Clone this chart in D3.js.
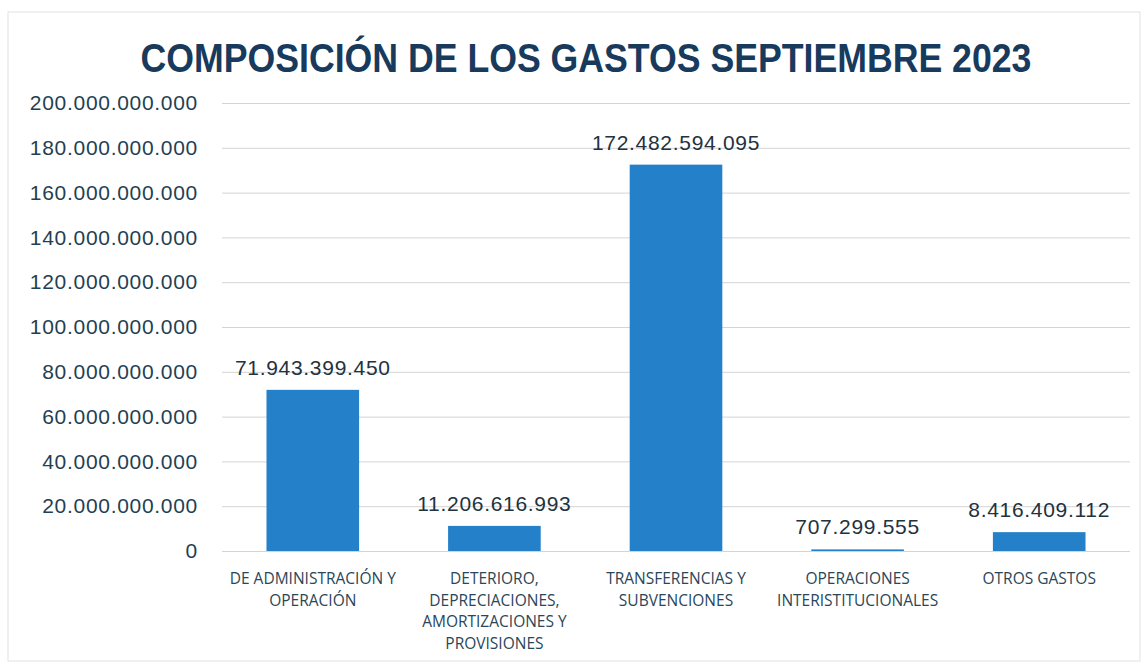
<!DOCTYPE html>
<html>
<head>
<meta charset="utf-8">
<script src="https://cdn.jsdelivr.net/npm/d3@7"></script>
<style>
  body { margin: 0; background: #fff; }
</style>
</head>
<body>
<div id="chart"></div>
<script>
// chart data
var categories = [
    ["DE ADMINISTRACIÓN Y", "OPERACIÓN"],
    ["DETERIORO,", "DEPRECIACIONES,", "AMORTIZACIONES Y", "PROVISIONES"],
    ["TRANSFERENCIAS Y", "SUBVENCIONES"],
    ["OPERACIONES", "INTERISTITUCIONALES"],
    ["OTROS GASTOS"]
];
var values = [71943399450, 11206616993, 172482594095, 707299555, 8416409112];
var yTicks = [0, 20e9, 40e9, 60e9, 80e9, 100e9, 120e9, 140e9, 160e9, 180e9, 200e9];

var W = 1146, H = 665;
var margin = { top: 103, right: 16, bottom: 114, left: 222 },
    width = W - margin.left - margin.right,
    height = H - margin.top - margin.bottom;

// thousands separated by dots
var fmt = function (v) {
    return d3.format(",")(v).replace(/,/g, ".");
};

var svg = d3.select("#chart")
    .append("svg")
    .attr("width", W)
    .attr("height", H);

// outer frame
svg.append("rect")
    .attr("x", 8).attr("y", 12)
    .attr("width", W - 14).attr("height", H - 16)
    .attr("fill", "#fff")
    .attr("stroke", "#e2e2e2");

// title, squeezed horizontally for the condensed look
svg.append("text")
    .attr("transform", "translate(586,72) scale(0.87,1)")
    .attr("text-anchor", "middle")
    .style("font-family", "Liberation Sans, Arial, sans-serif")
    .style("font-weight", "bold")
    .style("font-size", "41px")
    .style("fill", "#183a5d")
    .text("COMPOSICIÓN DE LOS GASTOS SEPTIEMBRE 2023");

var g = svg.append("g")
    .attr("transform", "translate(" + margin.left + "," + margin.top + ")");

var x = d3.scaleBand()
    .domain(d3.range(categories.length))
    .range([0, width])
    .paddingInner(0.49)
    .paddingOuter(0.245);

var y = d3.scaleLinear()
    .domain([0, 200e9])
    .range([height, 0]);

// grid lines
g.selectAll(".grid")
    .data(yTicks)
    .enter()
    .append("line")
    .attr("x1", 0)
    .attr("x2", width)
    .attr("y1", function (d) { return y(d) + 0.5; })
    .attr("y2", function (d) { return y(d) + 0.5; })
    .attr("stroke", "#d4d4d4")
    .attr("stroke-width", 1);

var numStyle = function (sel) {
    sel.style("font-family", "Liberation Sans, Arial, sans-serif")
        .style("font-size", "21px")
        .style("letter-spacing", "0.7px");
};

// Y axis labels
var yAxis = g.append("g")
    .attr("transform", "translate(-21,0)")
    .call(d3.axisLeft(y).tickValues(yTicks).tickFormat(fmt).tickSize(0));
yAxis.select(".domain").remove();
yAxis.selectAll("text")
    .call(numStyle)
    .style("fill", "#243f52");

// bars
g.selectAll(".bar")
    .data(values)
    .enter()
    .append("rect")
    .attr("x", function (d, i) { return x(i); })
    .attr("y", function (d) { return y(d); })
    .attr("width", x.bandwidth())
    .attr("height", function (d) { return height - y(d); })
    .attr("fill", "#2480c8");

// value labels
g.selectAll(".val")
    .data(values)
    .enter()
    .append("text")
    .attr("x", function (d, i) { return x(i) + x.bandwidth() / 2; })
    .attr("y", function (d) { return y(d) - 15; })
    .attr("text-anchor", "middle")
    .call(numStyle)
    .style("fill", "#22323e")
    .text(fmt);

// category labels
var cat = g.selectAll(".cat")
    .data(categories)
    .enter()
    .append("text")
    .attr("text-anchor", "middle")
    .attr("transform", function (d, i) {
        return "translate(" + (x(i) + x.bandwidth() / 2) + "," + (height + 33) + ")";
    })
    .style("font-family", "Open Sans, sans-serif")
    .style("font-size", "15.5px")
    .style("fill", "#2a4658");
cat.selectAll("tspan")
    .data(function (d) { return d; })
    .enter()
    .append("tspan")
    .attr("x", 0)
    .attr("dy", function (d, i) { return i === 0 ? 0 : 21.5; })
    .text(function (d) { return d; });
</script>
</body>
</html>
